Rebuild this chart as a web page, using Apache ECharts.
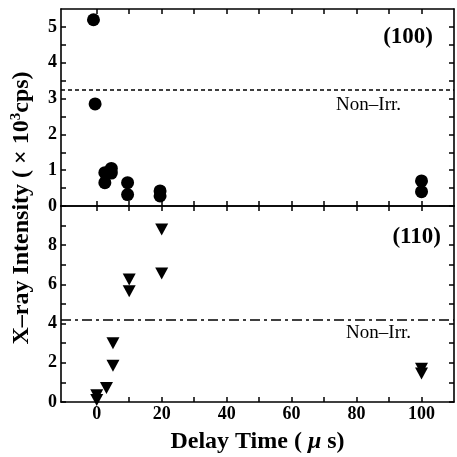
<!DOCTYPE html>
<html><head><meta charset="utf-8">
<script src="https://cdn.jsdelivr.net/npm/echarts@6/dist/echarts.min.js"></script>
<style>html,body{margin:0;padding:0;background:#fff}#chart{width:457px;height:457px}</style>
</head><body><div id="chart"></div>
<script>
// (100) reflection, circles
var delay100 = [-1, -0.5, 2.5, 2.5, 4.5, 4.5, 9.5, 9.5, 19.5, 19.5, 100, 100];
var int100 = [5.2, 2.85, 0.93, 0.65, 1.05, 0.92, 0.65, 0.32, 0.42, 0.28, 0.7, 0.4];
// (110) reflection, triangles
var delay110 = [0, 0, 3, 5, 5, 10, 10, 20, 20, 100, 100];
var int110 = [0.35, 0.1, 0.72, 3.0, 1.85, 6.25, 5.65, 8.8, 6.55, 1.7, 1.45];
// non-irradiated levels
var nonIrr100 = 3.24;
var nonIrr110 = 4.2;
// ticks
var xLabels = [0, 20, 40, 60, 80, 100];
var xTicks = [0, 10, 20, 30, 40, 50, 60, 70, 80, 90, 100];
var yLabels100 = [0, 1, 2, 3, 4, 5];
var yTicks100 = [0, 0.5, 1, 1.5, 2, 2.5, 3, 3.5, 4, 4.5, 5];
var yLabels110 = [0, 2, 4, 6, 8];
var yTicks110 = [0, 1, 2, 3, 4, 5, 6, 7, 8, 9];

var serif = 'Liberation Serif';
var lineSt = {color: '#000', width: 1.6};
var tickSt = {color: '#000', width: 1.5};
var lblSt = {color: '#000', fontFamily: serif, fontWeight: 'bold', fontSize: 18};

function xAx(grid, pos, labels) {
  var a = {
    type: 'value', gridIndex: grid, position: pos, min: -11, max: 110,
    axisLine: {show: true, onZero: false, lineStyle: lineSt},
    axisTick: {inside: true, length: 5, customValues: xTicks, lineStyle: tickSt},
    axisLabel: Object.assign({show: !!labels, customValues: xLabels, margin: 3}, lblSt),
    splitLine: {show: false}
  };
  if (labels) {
    a.name = '{a|Delay Time ( }{m|\u03bc}{a| s)}';
    a.nameLocation = 'middle';
    a.nameGap = 28;
    a.nameTextStyle = {rich: {
      a: {fontFamily: serif, fontWeight: 'bold', fontSize: 24, color: '#000'},
      m: {fontFamily: serif, fontWeight: 'bold', fontStyle: 'italic', fontSize: 24, color: '#000'}
    }};
  }
  return a;
}
function yAx(grid, pos, max, ticks, labels) {
  return {
    type: 'value', gridIndex: grid, position: pos, min: 0, max: max,
    axisLine: {show: true, onZero: false, lineStyle: lineSt},
    axisTick: {inside: true, length: 5, customValues: ticks, lineStyle: tickSt},
    axisLabel: Object.assign({show: !!labels, customValues: labels || [], margin: 4}, lblSt),
    splitLine: {show: false}
  };
}

var chart = echarts.init(document.getElementById('chart'));
chart.setOption({
  backgroundColor: '#fff',
  animation: false,
  grid: [
    {left: 61, top: 9, width: 393, height: 197},
    {left: 61, top: 206, width: 393, height: 196}
  ],
  xAxis: [xAx(0, 'bottom'), xAx(0, 'top'), xAx(1, 'bottom', true), xAx(1, 'top')],
  yAxis: [
    yAx(0, 'left', 5.5, yTicks100, yLabels100), yAx(0, 'right', 5.5, yTicks100),
    yAx(1, 'left', 10, yTicks110, yLabels110), yAx(1, 'right', 10, yTicks110)
  ],
  graphic: [
    {type: 'text', x: 22, y: 208, rotation: Math.PI / 2,
     style: {text: '{a|X\u2013ray Intensity ( \u00d7 10}{s|3}{a|cps)}', align: 'center', verticalAlign: 'middle',
       rich: {
         a: {fontFamily: serif, fontWeight: 'bold', fontSize: 24, fill: '#000', lineHeight: 26},
         s: {fontFamily: serif, fontWeight: 'bold', fontSize: 15, fill: '#000', verticalAlign: 'top', lineHeight: 26}
       }}},
    {type: 'text', x: 433, y: 37,
     style: {text: '(100)', align: 'right', verticalAlign: 'middle', fontFamily: serif, fontWeight: 'bold', fontSize: 23, fill: '#000'}},
    {type: 'text', x: 441, y: 237,
     style: {text: '(110)', align: 'right', verticalAlign: 'middle', fontFamily: serif, fontWeight: 'bold', fontSize: 23, fill: '#000'}}
  ],
  series: [
    {
      type: 'scatter', xAxisIndex: 0, yAxisIndex: 0,
      data: delay100.map(function (d, i) { return [d, int100[i]]; }),
      symbol: 'circle', symbolSize: 13, itemStyle: {color: '#000', opacity: 1},
      markLine: {
        silent: true, symbol: 'none', data: [{yAxis: nonIrr100}],
        lineStyle: {type: [4, 3], color: '#000', width: 1.5},
        label: {formatter: 'Non\u2013Irr.', position: 'insideEndBottom', distance: 6, padding: [0, 47, 0, 0],
          color: '#000', fontFamily: serif, fontSize: 19}
      }
    },
    {
      type: 'scatter', xAxisIndex: 2, yAxisIndex: 2,
      data: delay110.map(function (d, i) { return [d, int110[i]]; }),
      symbol: 'triangle', symbolRotate: 180, symbolSize: [13, 12], itemStyle: {color: '#000', opacity: 1},
      markLine: {
        silent: true, symbol: 'none', data: [{yAxis: nonIrr110}],
        lineStyle: {type: [10, 4, 3, 4], color: '#000', width: 1.5},
        label: {formatter: 'Non\u2013Irr.', position: 'insideEndBottom', distance: 4, padding: [0, 39, 0, 0],
          color: '#000', fontFamily: serif, fontSize: 19}
      }
    }
  ]
});
</script>
</body></html>
